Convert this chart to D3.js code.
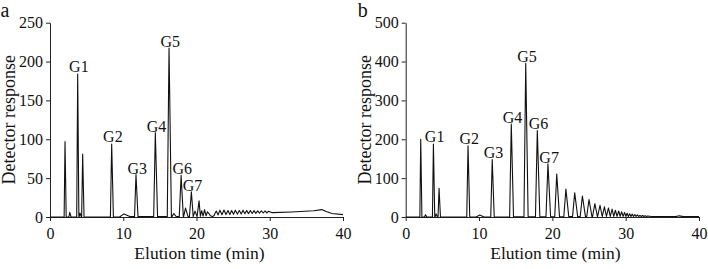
<!DOCTYPE html>
<html>
<head>
<meta charset="utf-8">
<script src="https://cdn.jsdelivr.net/npm/d3@7"></script>
<style>
  body { margin: 0; background: #fff; }
  svg { display: block; }
  svg text { font-family: "Liberation Serif", "Times New Roman", Times, "DejaVu Serif", serif; }
</style>
</head>
<body>
<div id="chart"></div>
<script>
//*************************1. Data

const xTicks = [0, 10, 20, 30, 40]
const yTicksA = [0, 50, 100, 150, 200, 250]
const yTicksB = [0, 100, 200, 300, 400, 500]
const peakNames = ["G1", "G2", "G3", "G4", "G5", "G6", "G7"]

//---------------- panel a
const peakTimesA = [2.05, 2.7, 3.78, 4.1, 4.46, 8.42, 11.74, 14.38, 16.25, 16.9, 17.9, 18.5, 19.3, 19.8,
    20.35, 20.7, 21.1, 21.5, 22.7, 23.2, 23.75, 24.3, 24.8, 25.3, 25.85, 26.35, 26.85, 27.35,
    27.85, 28.35, 28.85, 29.35, 29.85]
const peakHeightsA = [97, 6, 184, 5, 81, 94, 54, 108, 217, 4, 53, 11, 32, 7,
    20, 7, 8, 5, 5, 6, 6, 5, 5, 5, 4.5, 4.5, 4, 4,
    3.5, 3, 3, 2.5, 2]
const labelTimesA = [3.78, 8.42, 11.74, 14.38, 16.25, 17.9, 19.3]
const baseTimesA = [0, 9.5, 10.1, 10.9, 20, 21.8, 22.2, 22.5, 30, 33, 36, 37.1, 37.7, 38.5, 40]
const baseValuesA = [0, 0, 4, 0.5, 0.5, 2, 0.5, 2.5, 5.5, 6.5, 8, 9.5, 7, 4.5, 3]

//---------------- panel b
const peakTimesB = [2.05, 2.7, 3.78, 4.15, 4.55, 8.5, 11.8, 14.4, 16.37, 17.95, 19.4, 20.6, 21.85,
    23.05, 24.1, 25.0, 25.8, 26.5, 27.1, 27.65, 28.15, 28.6, 29.05, 29.45, 29.85, 30.2, 30.55,
    30.9, 31.25, 31.6, 31.95, 32.3, 32.65, 33.0]
const peakHeightsB = [200, 6, 188, 8, 74, 183, 148, 239, 395, 222, 136, 110, 71,
    61, 53, 44, 33, 29, 25, 22, 19, 16, 14, 12, 10, 8, 7,
    6, 5, 4, 3, 2.5, 2, 1.5]
const labelTimesB = [3.78, 8.5, 11.8, 14.4, 16.37, 17.95, 19.4]
const baseTimesB = [0, 9.6, 10.1, 10.7, 30, 36.8, 37.3, 37.9, 40]
const baseValuesB = [0, 0, 5, 0, 1.5, 1, 3, 1, 1]


//*************************2. Dimensions

const dimensions = {
    width: 708,
    height: 269,
    top: 22.7,
    bottom: 217
}

const serif = "'Liberation Serif', 'Times New Roman', Times, 'DejaVu Serif', serif"

const panels = [
    { letter: "a", left: 50, right: 343, yMax: 250, yTicks: yTicksA,
      times: peakTimesA, heights: peakHeightsA, labels: labelTimesA,
      baseTimes: baseTimesA, baseValues: baseValuesA },
    { letter: "b", left: 405.7, right: 699, yMax: 500, yTicks: yTicksB,
      times: peakTimesB, heights: peakHeightsB, labels: labelTimesB,
      baseTimes: baseTimesB, baseValues: baseValuesB }
]

const wrapper = d3.select("#chart")
    .append("svg")
    .attr("width", dimensions.width)
    .attr("height", dimensions.height)
    .attr("font-family", serif)


//*************************3. Trace from peaks + baseline

function buildTrace(p) {
    const base = d3.scaleLinear().domain(p.baseTimes).range(p.baseValues).clamp(true)
    const spikes = p.times.map((t, i) => {
        const gapL = i > 0 ? t - p.times[i - 1] : 1
        const gapR = i < p.times.length - 1 ? p.times[i + 1] - t : 1
        const w = 0.12 + 0.01 * t
        return { t, h: p.heights[i], l: t - Math.min(gapL / 2, w * 0.85), r: t + Math.min(gapR / 2, w * 1.15) }
    })
    const knots = new Set(p.baseTimes)
    spikes.forEach(s => { knots.add(s.l); knots.add(s.t); knots.add(s.r) })
    const ts = [...knots].sort((a, b) => a - b)
    return ts.map(t => {
        let v = base(t)
        spikes.forEach(s => {
            if (t > s.l && t <= s.t) v += s.h * (t - s.l) / (s.t - s.l)
            else if (t > s.t && t < s.r) v += s.h * (s.r - t) / (s.r - s.t)
        })
        return [t, v]
    })
}


//*************************4. Draw panels

panels.forEach(p => {
    const xScale = d3.scaleLinear().domain([0, 40]).range([p.left, p.right])
    const yScale = d3.scaleLinear().domain([0, p.yMax]).range([dimensions.bottom, dimensions.top])

    const g = wrapper.append("g")

    //---------------- axes
    const yAxis = g.append("g")
        .attr("transform", `translate(${p.left},0)`)
        .call(d3.axisLeft(yScale).tickValues(p.yTicks).tickSize(4).tickPadding(3).tickSizeOuter(0))
    const xAxis = g.append("g")
        .attr("transform", `translate(0,${dimensions.bottom})`)
        .call(d3.axisBottom(xScale).tickValues(xTicks).tickSize(4).tickPadding(7).tickSizeOuter(0))

    ;[xAxis, yAxis].forEach(a => {
        a.attr("font-family", serif).attr("font-size", 16)
        a.selectAll("text").attr("fill", "#111")
        a.selectAll("line, path").attr("stroke", "#222").attr("stroke-width", 1)
    })

    //---------------- trace
    const line = d3.line()
        .x(d => xScale(d[0]))
        .y(d => yScale(d[1]))

    g.append("path")
        .datum(buildTrace(p))
        .attr("d", line)
        .attr("fill", "none")
        .attr("stroke", "#111")
        .attr("stroke-width", 1.1)
        .attr("stroke-linejoin", "round")

    //---------------- peak labels
    g.selectAll(".peak-label")
        .data(p.labels)
        .join("text")
        .attr("class", "peak-label")
        .attr("x", t => xScale(t) + 1.2)
        .attr("y", t => yScale(p.heights[p.times.indexOf(t)]) - 1.5)
        .attr("text-anchor", "middle")
        .attr("font-size", 16)
        .attr("fill", "#111")
        .text((t, i) => peakNames[i])

    //---------------- titles
    g.append("text")
        .attr("x", (p.left + p.right) / 2 + 3)
        .attr("y", 259)
        .attr("text-anchor", "middle")
        .attr("font-size", 17.5)
        .attr("fill", "#111")
        .text("Elution time (min)")

    g.append("text")
        .attr("transform", `translate(${p.left - 35},${(dimensions.top + dimensions.bottom) / 2}) rotate(-90)`)
        .attr("text-anchor", "middle")
        .attr("font-size", 18)
        .attr("fill", "#111")
        .text("Detector response")

    g.append("text")
        .attr("x", p.left - 49.5 + (p.letter === "b" ? 1.5 : 0))
        .attr("y", 17)
        .attr("font-size", 20)
        .attr("fill", "#111")
        .text(p.letter)
})
</script>
</body>
</html>
